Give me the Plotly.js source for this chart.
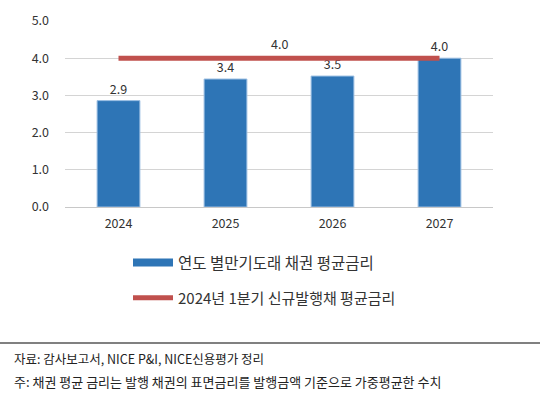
<!DOCTYPE html>
<html>
<head>
<meta charset="utf-8">
<script src="https://cdn.plot.ly/plotly-3.0.1.min.js"></script>
<style>
  html, body { margin: 0; padding: 0; background: #fff; }
  #chart { width: 540px; height: 411px; }
</style>
</head>
<body>
<div id="chart"></div>
<script>
// 연도별 만기도래 채권 평균금리 vs 2024년 1분기 신규발행채 평균금리
const years = ["2024", "2025", "2026", "2027"];
const maturingRate = [2.86, 3.44, 3.52, 4.0];
const newIssueRate = [4.0, 4.0, 4.0, 4.0];
const yTicks = [0, 1, 2, 3, 4, 5];

const barName = "연도 별만기도래 채권 평균금리";
const lineName = "2024년 1분기 신규발행채 평균금리";
const sourceNote = "자료: 감사보고서, NICE P&I, NICE신용평가 정리";
const footNote = "주: 채권 평균 금리는 발행 채권의 표면금리를 발행금액 기준으로 가중평균한 수치";

const BLUE = "#2E75B6";
const RED = "#C0504D";
const FONT = "Noto Sans CJK KR, Noto Sans, sans-serif";

const xIdx = years.map((_, i) => i);

const traces = [
  {
    type: "bar",
    x: xIdx,
    y: maturingRate,
    width: 0.4,
    marker: { color: BLUE, line: { color: "#9cbfe3", width: 1 } },
    text: maturingRate.map(v => v.toFixed(1)),
    textposition: "outside",
    cliponaxis: false,
    textfont: { size: 12.5, color: "#333" },
    showlegend: false,
    hoverinfo: "skip"
  },
  // legend-only stand-in so the swatch is a wide bar like the original
  {
    type: "scatter",
    mode: "lines",
    x: [null],
    y: [null],
    name: barName,
    line: { color: BLUE, width: 8 },
    legend: "legend",
    hoverinfo: "skip"
  },
  {
    type: "scatter",
    mode: "lines",
    x: xIdx,
    y: newIssueRate,
    name: lineName,
    line: { color: RED, width: 5 },
    legend: "legend2",
    hoverinfo: "skip"
  }
];

// paper coords relative to the plot box (65..493 x, 21..207 y)
const px = x => (x - 65) / 428;
const py = y => (207 - y) / 186;

const layout = {
  width: 540,
  height: 411,
  margin: { l: 65, r: 47, t: 21, b: 204 },
  paper_bgcolor: "#fff",
  plot_bgcolor: "#fff",
  font: { family: FONT, color: "#333", size: 12 },
  bargap: 0.6,
  xaxis: {
    range: [-0.5, 3.5],
    tickvals: xIdx,
    ticktext: years,
    showgrid: false,
    zeroline: false,
    showline: false,
    ticks: "",
    ticklabelstandoff: 7,
    tickfont: { size: 12.5, color: "#333" },
    fixedrange: true
  },
  yaxis: {
    range: [0, 5],
    tickvals: yTicks,
    tickformat: ".1f",
    showgrid: true,
    gridcolor: "#d4d4d4",
    gridwidth: 1,
    zeroline: true,
    zerolinecolor: "#c8c8c8",
    zerolinewidth: 1,
    showline: false,
    ticks: "",
    ticklabelstandoff: 15,
    tickfont: { size: 12.5, color: "#333" },
    fixedrange: true
  },
  legend: {
    x: px(128), xanchor: "left",
    y: py(263), yanchor: "middle",
    font: { size: 15.5, color: "#333" },
    itemwidth: 40,
    bgcolor: "rgba(0,0,0,0)"
  },
  legend2: {
    x: px(128), xanchor: "left",
    y: py(298), yanchor: "middle",
    font: { size: 15, color: "#333" },
    itemwidth: 40,
    bgcolor: "rgba(0,0,0,0)"
  },
  shapes: [
    {
      type: "line", xref: "paper", yref: "paper",
      x0: px(0), x1: px(540), y0: py(343), y1: py(343),
      line: { color: "#808080", width: 2 }
    }
  ],
  annotations: [
    {
      x: 1.5, y: newIssueRate[1], xref: "x", yref: "y",
      text: newIssueRate[1].toFixed(1), showarrow: false,
      yshift: 15, font: { size: 12.5, color: "#333" }
    },
    {
      x: px(12), y: py(358), xref: "paper", yref: "paper",
      xanchor: "left", yanchor: "middle", showarrow: false,
      text: sourceNote, font: { size: 12.5, color: "#222" }
    },
    {
      x: px(12), y: py(381), xref: "paper", yref: "paper",
      xanchor: "left", yanchor: "middle", showarrow: false,
      text: footNote, font: { size: 13, color: "#222" }
    }
  ]
};

Plotly.newPlot("chart", traces, layout, { displayModeBar: false, staticPlot: true });
</script>
</body>
</html>
